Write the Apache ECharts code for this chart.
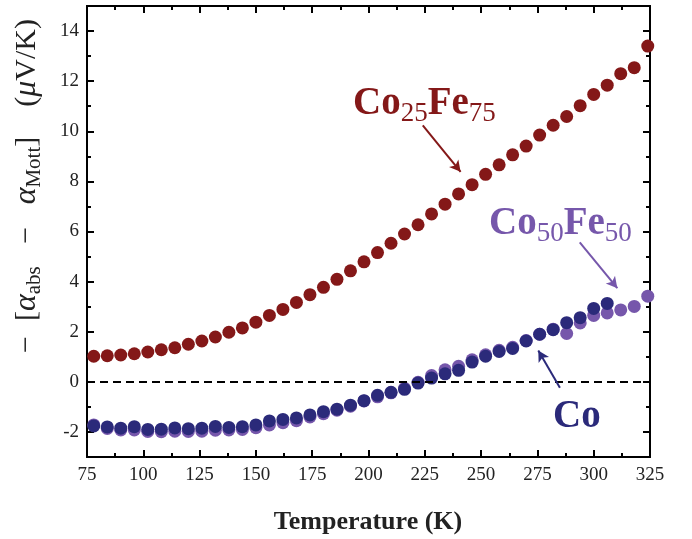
<!DOCTYPE html>
<html>
<head>
<meta charset="utf-8">
<script src="https://cdn.jsdelivr.net/npm/echarts@6/dist/echarts.min.js"></script>
<style>
  html, body { margin: 0; padding: 0; background: #ffffff; }
  #chart { width: 692px; height: 539px; }
</style>
</head>
<body>
<div id="chart"></div>
<script>
// Temperature grid (K)
var temps = [78, 84, 90, 96, 102, 108, 114, 120, 126, 132, 138, 144, 150, 156, 162, 168, 174, 180,
  186, 192, 198, 204, 210, 216, 222, 228, 234, 240, 246, 252, 258, 264, 270, 276, 282, 288, 294,
  300, 306, 312, 318, 324];

// -[alpha_abs - alpha_Mott] in uV/K
var co25fe75 = [1.02, 1.04, 1.07, 1.12, 1.19, 1.28, 1.36, 1.50, 1.63, 1.79, 1.98, 2.15, 2.38, 2.65,
  2.89, 3.17, 3.48, 3.77, 4.09, 4.43, 4.79, 5.16, 5.53, 5.90, 6.27, 6.70, 7.09, 7.50, 7.87, 8.28,
  8.66, 9.06, 9.41, 9.85, 10.24, 10.59, 11.02, 11.47, 11.84, 12.30, 12.54, 13.40];

var co50fe50 = [-1.72, -1.86, -1.92, -1.92, -1.98, -1.99, -1.97, -1.98, -1.97, -1.93, -1.92, -1.90,
  -1.83, -1.72, -1.63, -1.55, -1.40, -1.27, -1.13, -0.97, -0.76, -0.60, -0.44, -0.26, -0.02, 0.25,
  0.48, 0.62, 0.88, 1.08, 1.26, 1.38, 1.65, 1.90, 2.10, 1.93, 2.35, 2.65, 2.75, 2.87, 3.01, 3.42];

// Co data stops at 306 K
var co = [-1.76, -1.80, -1.85, -1.79, -1.90, -1.89, -1.84, -1.87, -1.85, -1.78, -1.82, -1.79, -1.72,
  -1.56, -1.50, -1.44, -1.32, -1.19, -1.09, -0.93, -0.75, -0.54, -0.42, -0.30, -0.05, 0.15, 0.32,
  0.46, 0.79, 1.02, 1.21, 1.33, 1.63, 1.90, 2.08, 2.36, 2.56, 2.93, 3.13];

var xTicks = [75, 100, 125, 150, 175, 200, 225, 250, 275, 300, 325];
var yMajor = [-2, 0, 2, 4, 6, 8, 10, 12, 14];
var yMinor = [-1, 1, 3, 5, 7, 9, 11, 13];

var RED = '#841818';
var PURPLE = '#7657ab';
var NAVY = '#2b2a7a';
var SERIF = '"Liberation Serif", "DejaVu Serif", serif';

function pairs(xs, ys) {
  var out = [];
  for (var i = 0; i < ys.length; i++) out.push([xs[i], ys[i]]);
  return out;
}

var chart = echarts.init(document.getElementById('chart'), null, { renderer: 'canvas' });

var axisLineStyle = { color: '#000', width: 2 };

function yAxisDef(position, values, len, labels) {
  return {
    type: 'value', position: position, min: -3, max: 15, interval: 1,
    axisLine: { show: true, onZero: false, lineStyle: axisLineStyle },
    axisTick: { show: true, inside: true, length: len, customValues: values,
      lineStyle: { color: '#000', width: 2 } },
    axisLabel: labels ? { show: true, customValues: yMajor, margin: 8, color: '#222',
      fontFamily: SERIF, fontSize: 19 } : { show: false },
    splitLine: { show: false }
  };
}

function xAxisDef(position, labels) {
  return {
    type: 'value', position: position, min: 75, max: 325, interval: 25,
    axisLine: { show: true, onZero: false, lineStyle: axisLineStyle },
    axisTick: { show: true, inside: true, length: 7, lineStyle: { color: '#000', width: 2 } },
    minorTick: { show: true, splitNumber: 2, length: 4, lineStyle: { color: '#000', width: 2 } },
    axisLabel: labels ? { show: true, margin: 9, color: '#222', fontFamily: SERIF, fontSize: 19,
      customValues: xTicks } : { show: false },
    splitLine: { show: false }, minorSplitLine: { show: false }
  };
}

function arrowLine(color, from, to) {
  return {
    silent: true, symbol: ['none', 'arrow'], symbolSize: [9, 11],
    label: { show: false },
    lineStyle: { color: color, width: 2, type: 'solid' },
    data: [[{ coord: from }, { coord: to }]]
  };
}

// Chemical formula with lowered subscripts
function formulaRich(color) {
  return {
    b: { fontFamily: SERIF, fontWeight: 'bold', fontSize: 39, lineHeight: 44, fill: color },
    s: { fontFamily: SERIF, fontSize: 27, lineHeight: 44, padding: [20, 0, 0, 0], fill: color }
  };
}

var option = {
  backgroundColor: '#ffffff',
  animation: false,
  grid: { left: 87, right: 42, top: 6, bottom: 82 },
  xAxis: [xAxisDef('bottom', true), xAxisDef('top', false)],
  yAxis: [
    yAxisDef('left', yMajor, 7, true),
    yAxisDef('left', yMinor, 4, false),
    yAxisDef('right', yMajor, 7, false),
    yAxisDef('right', yMinor, 4, false)
  ],
  series: [
    {
      name: 'zero', type: 'line', data: [], xAxisIndex: 0, yAxisIndex: 0,
      markLine: {
        silent: true, symbol: ['none', 'none'], label: { show: false },
        lineStyle: { color: '#000', width: 2, type: [8, 5] },
        data: [{ yAxis: 0 }]
      }
    },
    {
      name: 'Co50Fe50', type: 'scatter', data: pairs(temps, co50fe50), symbolSize: 13,
      itemStyle: { color: PURPLE, opacity: 1 },
      markLine: arrowLine(PURPLE, [293.8, 5.57], [310.5, 3.74])
    },
    {
      name: 'Co', type: 'scatter', data: pairs(temps, co), symbolSize: 13,
      itemStyle: { color: NAVY, opacity: 1 },
      markLine: arrowLine(NAVY, [285.0, -0.24], [275.4, 1.25])
    },
    {
      name: 'Co25Fe75', type: 'scatter', data: pairs(temps, co25fe75), symbolSize: 13,
      itemStyle: { color: RED, opacity: 1 },
      markLine: arrowLine(RED, [224.1, 10.24], [240.9, 8.38])
    }
  ],
  graphic: [
    {
      type: 'text', left: 353, top: 80,
      style: { text: '{b|Co}{s|25}{b|Fe}{s|75}', fill: RED, rich: formulaRich(RED) }
    },
    {
      type: 'text', left: 489, top: 200,
      style: { text: '{b|Co}{s|50}{b|Fe}{s|50}', fill: PURPLE, rich: formulaRich(PURPLE) }
    },
    {
      type: 'text', left: 553, top: 397,
      style: { text: 'Co', fill: NAVY, fontFamily: SERIF, fontWeight: 'bold', fontSize: 39 }
    },
    {
      type: 'text', x: 27, y: 186, rotation: Math.PI / 2,
      style: {
        text: '{n|\u2212  [}{i|\u03b1}{s|abs}{n|   \u2212   }{i|\u03b1}{s|Mott}{n|]    (}{i|\u03bc}{n|V/K)}',
        align: 'center', verticalAlign: 'middle', fill: '#222',
        rich: {
          n: { fontFamily: SERIF, fontSize: 30, lineHeight: 32, fill: '#222' },
          i: { fontFamily: SERIF, fontStyle: 'italic', fontSize: 32, lineHeight: 32, fill: '#222' },
          s: { fontFamily: SERIF, fontSize: 21, lineHeight: 32, padding: [14, 0, 0, 0], fill: '#222' }
        }
      }
    },
    {
      type: 'text', x: 368, y: 522,
      style: {
        text: 'Temperature (K)', align: 'center', verticalAlign: 'middle', fill: '#222',
        fontFamily: SERIF, fontWeight: 'bold', fontSize: 26
      }
    }
  ]
};

chart.setOption(option);
</script>
</body>
</html>
